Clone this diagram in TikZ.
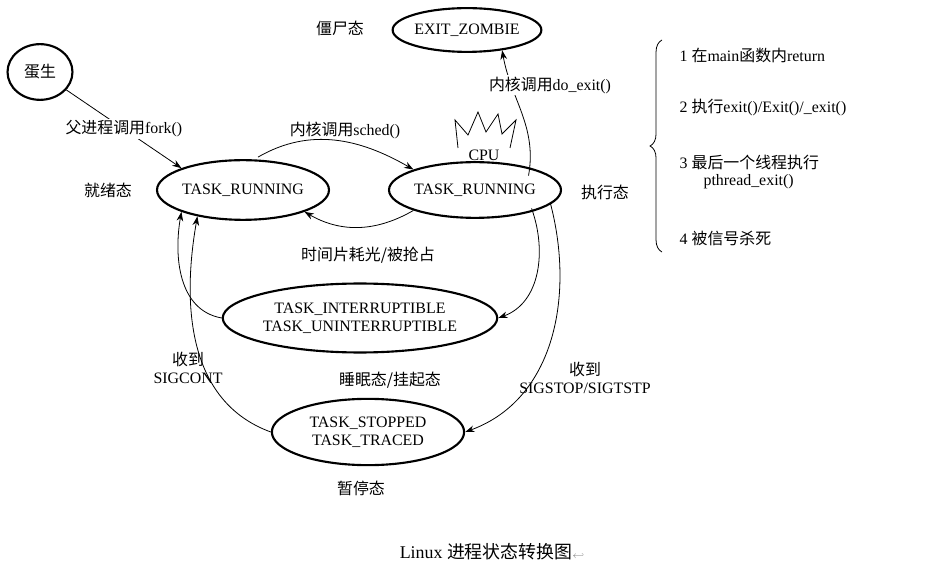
\documentclass[tikz,border=0pt]{standalone}
\usepackage{fontspec}
\setmainfont{Liberation Serif}
\newfontfamily\cjk{Noto Sans CJK SC}
\usetikzlibrary{arrows.meta,decorations.pathreplacing,shapes.geometric}
\begin{document}
\begin{tikzpicture}[x=0.0265cm,y=-0.0265cm,
  st/.style={draw,ellipse,line width=1.6pt,inner sep=0pt,align=center},
  arr/.style={-{Stealth[length=7pt,width=5pt]},line width=0.6pt},
  every node/.append style={font=\fontsize{12}{13.5}\selectfont}]
\useasboundingbox[fill=white] (0,0) rectangle (936,578);
\node[st,minimum width=49pt,minimum height=42pt] (egg) at (40,72) {\cjk 蛋生};
\node[st,minimum width=112pt,minimum height=33pt] (zom) at (467,30) {EXIT\_ZOMBIE};
\node[st,minimum width=128pt,minimum height=45pt] (rl) at (243,190) {TASK\_RUNNING};
\node[st,minimum width=120pt,minimum height=42pt] (rr) at (475,190) {TASK\_RUNNING};
\node[st,minimum width=195pt,minimum height=52pt] (int) at (360,318) {TASK\_INTERRUPTIBLE\\TASK\_UNINTERRUPTIBLE};
\node[st,minimum width=145pt,minimum height=50pt] (stp) at (368,432) {TASK\_STOPPED\\TASK\_TRACED};
\node (l1) at (340,28) {\cjk 僵尸态};
\node (l2) at (108,190) {\cjk 就绪态};
\node (l3) at (605,192) {\cjk 执行态};
\node (l4) at (390,380) {\cjk 睡眠态/挂起态};
\node (l5) at (361,488) {\cjk 暂停态};
\node (cap) at (492,552) {\fontsize{13.5}{15}\selectfont Linux {\cjk 进程状态转换图}\textcolor{gray}{\scriptsize$\hookleftarrow$}};
% CPU spikes
\draw[line width=0.6pt] (458,148) -- (455,120) -- (468,135) -- (478,112) -- (486,132) -- (498,114) -- (502,134) -- (516,120) -- (510,148);
\node (cpu) at (484,155) {CPU};
% arrows
\draw[arr] (egg) -- (rl.north west) node[midway,fill=white,inner sep=1pt] (t1) {{\cjk 父进程调用}fork()};
\draw[arr] (rl.north) ++(15,-2) coordinate (a1) to[out=30,in=150] (rr.north west);
\node (t2) at (345,130) {{\cjk 内核调用}sched()};
\draw[arr] (rr.south west) to[out=-150,in=-30] (rl.south east);
\node (t3) at (368,255) {\cjk 时间片耗光/被抢占};
\draw[arr] (rr.north east) ++(-8,6) coordinate (a2) to[out=80,in=-80] (zom.-30);
\node[fill=white,inner sep=1pt] (t4) at (550,85) {{\cjk 内核调用}do\_exit()};
\draw[arr] (rr.south east) ++(-5,-2) coordinate (a3) to[out=-70,in=20] (int.east);
\draw[arr] (int.west) to[out=170,in=-100] (rl.south west);
\draw[arr] (rr.east) ++(-12,12) coordinate (a4) to[out=-75,in=20] (stp.east);
\node[align=center] (t5) at (585,378) {{\cjk 收到}\\SIGSTOP/SIGTSTP};
\draw[arr] (stp.west) to[out=160,in=-100] (rl.210);
\node[align=center] (t6) at (188,368) {{\cjk 收到}\\SIGCONT};
% brace
\draw[line width=0.6pt,decorate,decoration={brace,amplitude=9pt}] (662,252) -- (662,40);
\node[anchor=west] (b1) at (675,55) {1 {\cjk 在}main{\cjk 函数内}return};
\node[anchor=west] (b2) at (675,108) {2 {\cjk 执行}exit()/Exit()/\_exit()};
\node[anchor=west,align=left] (b3) at (675,172) {3 {\cjk 最后一个线程执行}\\\hspace*{1.5em}pthread\_exit()};
\node[anchor=west] (b4) at (675,238) {4 {\cjk 被信号杀死}};
\end{tikzpicture}
\end{document}
